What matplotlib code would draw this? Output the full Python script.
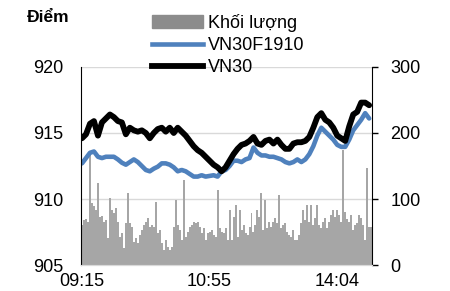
import numpy as np
import matplotlib
matplotlib.use('Agg')
import matplotlib.pyplot as plt
from matplotlib.patches import Patch
from matplotlib.lines import Line2D

plt.rcParams['font.family'] = ['Liberation Sans', 'DejaVu Sans']

# khối lượng (trục phải), mỗi cột ~ 1 bước thời gian
volume = [60, 68, 70, 66, 168, 94, 90, 83, 125, 73, 75, 65, 68, 41, 101, 83, 79, 86, 65, 43,
          48, 26, 63, 109, 63, 58, 35, 41, 33, 45, 53, 60, 65, 71, 58, 61, 58, 95, 48, 53,
          33, 23, 38, 27, 23, 27, 58, 98, 60, 53, 38, 129, 43, 50, 58, 61, 65, 63, 65, 58,
          48, 56, 38, 48, 50, 53, 45, 43, 114, 56, 50, 48, 56, 38, 83, 38, 73, 91, 43, 83,
          53, 61, 48, 45, 58, 79, 50, 60, 83, 73, 109, 53, 98, 56, 65, 58, 65, 71, 63, 106,
          56, 60, 63, 50, 45, 43, 53, 38, 38, 45, 63, 83, 68, 91, 65, 91, 61, 71, 91, 61,
          56, 66, 71, 56, 65, 76, 83, 73, 83, 76, 65, 174, 80, 70, 65, 76, 53, 60, 63, 76,
          71, 61, 38, 147, 58, 58]

# giá (trục trái), một điểm mỗi 2 cột
vn30 = [914.6, 914.9, 915.7, 915.9, 914.8, 915.8, 916.1, 916.4, 916.2, 915.9,
        915.8, 914.9, 915.4, 915.2, 915.1, 915.2, 915.0, 914.6, 915.0, 915.3,
        915.4, 915.1, 915.4, 915.0, 915.4, 915.1, 914.8, 914.4, 914.0, 913.7,
        913.5, 913.2, 912.9, 912.6, 912.4, 912.1, 912.4, 912.9, 913.4, 913.8,
        914.1, 914.2, 914.4, 914.7, 914.2, 914.1, 914.4, 914.5, 914.2, 914.5,
        914.1, 913.8, 913.8, 914.2, 914.3, 914.3, 914.4, 914.7, 915.4, 916.2,
        916.5, 916.0, 915.8, 915.4, 914.8, 914.6, 914.4, 915.5, 916.4, 916.6,
        917.3, 917.3, 917.1]
vn30f = [912.7, 913.1, 913.5, 913.6, 913.2, 913.1, 913.2, 913.2, 913.2, 913.0,
         912.75, 912.6, 912.8, 913.0, 912.8, 912.5, 912.2, 912.1, 912.3, 912.45,
         912.7, 912.7, 912.6, 912.4, 912.1, 912.2, 912.1, 911.9, 911.7, 911.7,
         911.8, 911.7, 911.75, 911.8, 911.7, 912.1, 912.2, 912.5, 912.9, 912.9,
         912.8, 913.0, 913.1, 913.9, 913.5, 913.3, 913.3, 913.2, 913.2, 913.1,
         913.0, 912.8, 912.7, 912.8, 913.0, 912.8, 913.0, 913.4, 914.0, 914.8,
         915.4, 915.1, 914.8, 914.5, 914.1, 913.95, 913.95, 914.5, 915.2, 915.6,
         916.0, 916.5, 916.1]

tick_pos = [0, 64, 128]
tick_labels = ['09:15', '10:55', '14:04']

fs = 13
fig = plt.figure(figsize=(4.5, 2.91), dpi=100)
ax = fig.add_axes([0.18, 0.089, 0.647, 0.681])
ax2 = ax.twinx()

# cột khối lượng nằm dưới đường giá
ax.set_zorder(ax2.get_zorder() + 1)
ax.patch.set_visible(False)

xb = np.arange(len(volume))
ax2.bar(xb, volume, width=1.0, color='#a6a6a6', linewidth=0)
ax2.set_ylim(0, 300)
ax2.set_yticks([0, 100, 200, 300])
ax2.yaxis.grid(True, color='#d9d9d9', linewidth=1)
ax2.set_axisbelow(True)
ax2.tick_params(axis='y', direction='out', length=4, width=1, labelsize=fs, pad=9)

xl = np.arange(len(vn30)) * 2
ax.plot(xl, vn30f, color='#4f81bd', lw=3.3, solid_capstyle='round')
ax.plot(xl, vn30, color='black', lw=4.2, solid_capstyle='round')
ax.set_ylim(905, 920)
ax.set_yticks([905, 910, 915, 920])
ax.tick_params(axis='y', length=0, labelsize=fs, pad=13)
ax.set_xlim(-0.5, len(volume) - 0.5)
ax.set_xticks(tick_pos)
ax.set_xticklabels(tick_labels)
ax.tick_params(axis='x', length=0, labelsize=fs, pad=6)

for a in (ax, ax2):
    a.spines['top'].set_visible(False)
    a.spines['bottom'].set_color('#d9d9d9')
ax.spines['right'].set_visible(False)
ax.spines['left'].set_color('black')
ax2.spines['left'].set_visible(False)
ax2.spines['right'].set_color('black')

fig.text(0.06, 0.94, 'Điểm', fontsize=12.5, fontweight='bold', va='center')

handles = [Patch(color='#8c8c8c'),
           Line2D([], [], color='#4f81bd', lw=3.3),
           Line2D([], [], color='black', lw=4.2)]
fig.legend(handles, ['Khối lượng', 'VN30F1910', 'VN30'], loc='upper left',
           bbox_to_anchor=(0.33, 0.965), frameon=False, fontsize=fs,
           handlelength=2.8, handletextpad=0.3, labelspacing=0.28,
           borderpad=0.2, borderaxespad=0)

plt.savefig('out.png', dpi=100)
